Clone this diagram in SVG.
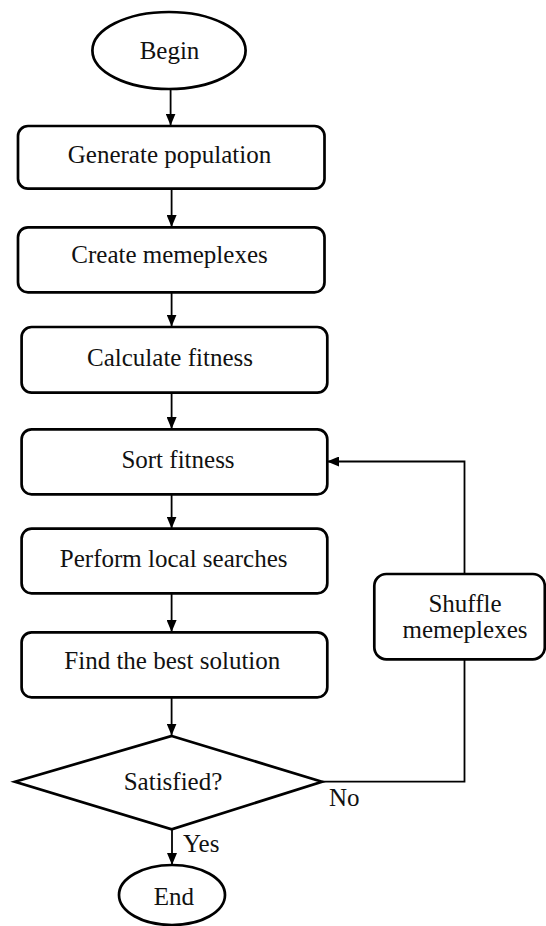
<svg xmlns="http://www.w3.org/2000/svg" width="546" height="926" viewBox="0 0 546 926">
<style>
.n{fill:#fff;stroke:#000;stroke-width:2.7}
.t{font-family:"Liberation Serif","Times New Roman",serif;font-size:25px;fill:#111;text-anchor:middle}
.l{font-family:"Liberation Serif","Times New Roman",serif;font-size:25px;fill:#111}
.c{fill:none;stroke:#000;stroke-width:1.8}
</style>
<defs>
<marker id="ah" markerWidth="12" markerHeight="10" refX="12" refY="5" orient="auto" markerUnits="userSpaceOnUse">
<path d="M0,0 L12,5 L0,10 z" fill="#000"/>
</marker>
</defs>
<g id="connectors">
<line class="c" x1="170.6" y1="89" x2="170.6" y2="125.5" marker-end="url(#ah)"/>
<line class="c" x1="171.6" y1="189" x2="171.6" y2="227" marker-end="url(#ah)"/>
<line class="c" x1="171.6" y1="292" x2="171.6" y2="326.5" marker-end="url(#ah)"/>
<line class="c" x1="171.6" y1="393" x2="171.6" y2="429" marker-end="url(#ah)"/>
<line class="c" x1="171.6" y1="494" x2="171.6" y2="528.5" marker-end="url(#ah)"/>
<line class="c" x1="171.6" y1="593" x2="171.6" y2="632" marker-end="url(#ah)"/>
<line class="c" x1="171.6" y1="697" x2="171.6" y2="735.5" marker-end="url(#ah)"/>
<line class="c" x1="172" y1="829" x2="172" y2="865" marker-end="url(#ah)"/>
<polyline class="c" points="322,781.7 464.5,781.7 464.5,659"/>
<polyline class="c" points="464.5,574 464.5,461.5 327,461.5" marker-end="url(#ah)"/>
<text class="l" x="329" y="806">No</text>
<text class="l" x="183" y="851.7">Yes</text>
</g>
<g id="begin">
<ellipse class="n" cx="169" cy="50.5" rx="76.6" ry="38.5"/>
<text class="t" x="169.5" y="59.3">Begin</text>
</g>
<g id="generate">
<rect class="n" x="18" y="126" width="306.5" height="62.7" rx="10"/>
<text class="t" x="169.5" y="163">Generate population</text>
</g>
<g id="create">
<rect class="n" x="18" y="227.3" width="306.5" height="65" rx="10"/>
<text class="t" x="169.5" y="263.3">Create memeplexes</text>
</g>
<g id="calculate">
<rect class="n" x="21.6" y="327" width="305.7" height="65.7" rx="10"/>
<text class="t" x="170" y="366">Calculate fitness</text>
</g>
<g id="sort">
<rect class="n" x="21.6" y="429.3" width="305.7" height="65" rx="10"/>
<text class="t" x="178" y="468.3">Sort fitness</text>
</g>
<g id="perform">
<rect class="n" x="21.6" y="528.7" width="305.7" height="64.6" rx="10"/>
<text class="t" x="173.7" y="566.7">Perform local searches</text>
</g>
<g id="find">
<rect class="n" x="21.6" y="632.3" width="305.7" height="65" rx="10"/>
<text class="t" x="172.3" y="669.3">Find the best solution</text>
</g>
<g id="satisfied">
<polygon class="n" points="171.7,736 322,781.7 171.7,829.3 15,781.7"/>
<text class="t" x="173" y="790">Satisfied?</text>
</g>
<g id="shuffle">
<rect class="n" x="374.3" y="574" width="170.5" height="85.3" rx="12"/>
<text class="t" x="465" y="611.7">Shuffle</text>
<text class="t" x="465" y="638.3">memeplexes</text>
</g>
<g id="end">
<ellipse class="n" cx="172" cy="895" rx="53" ry="30"/>
<text class="t" x="173.8" y="905">End</text>
</g>
</svg>
